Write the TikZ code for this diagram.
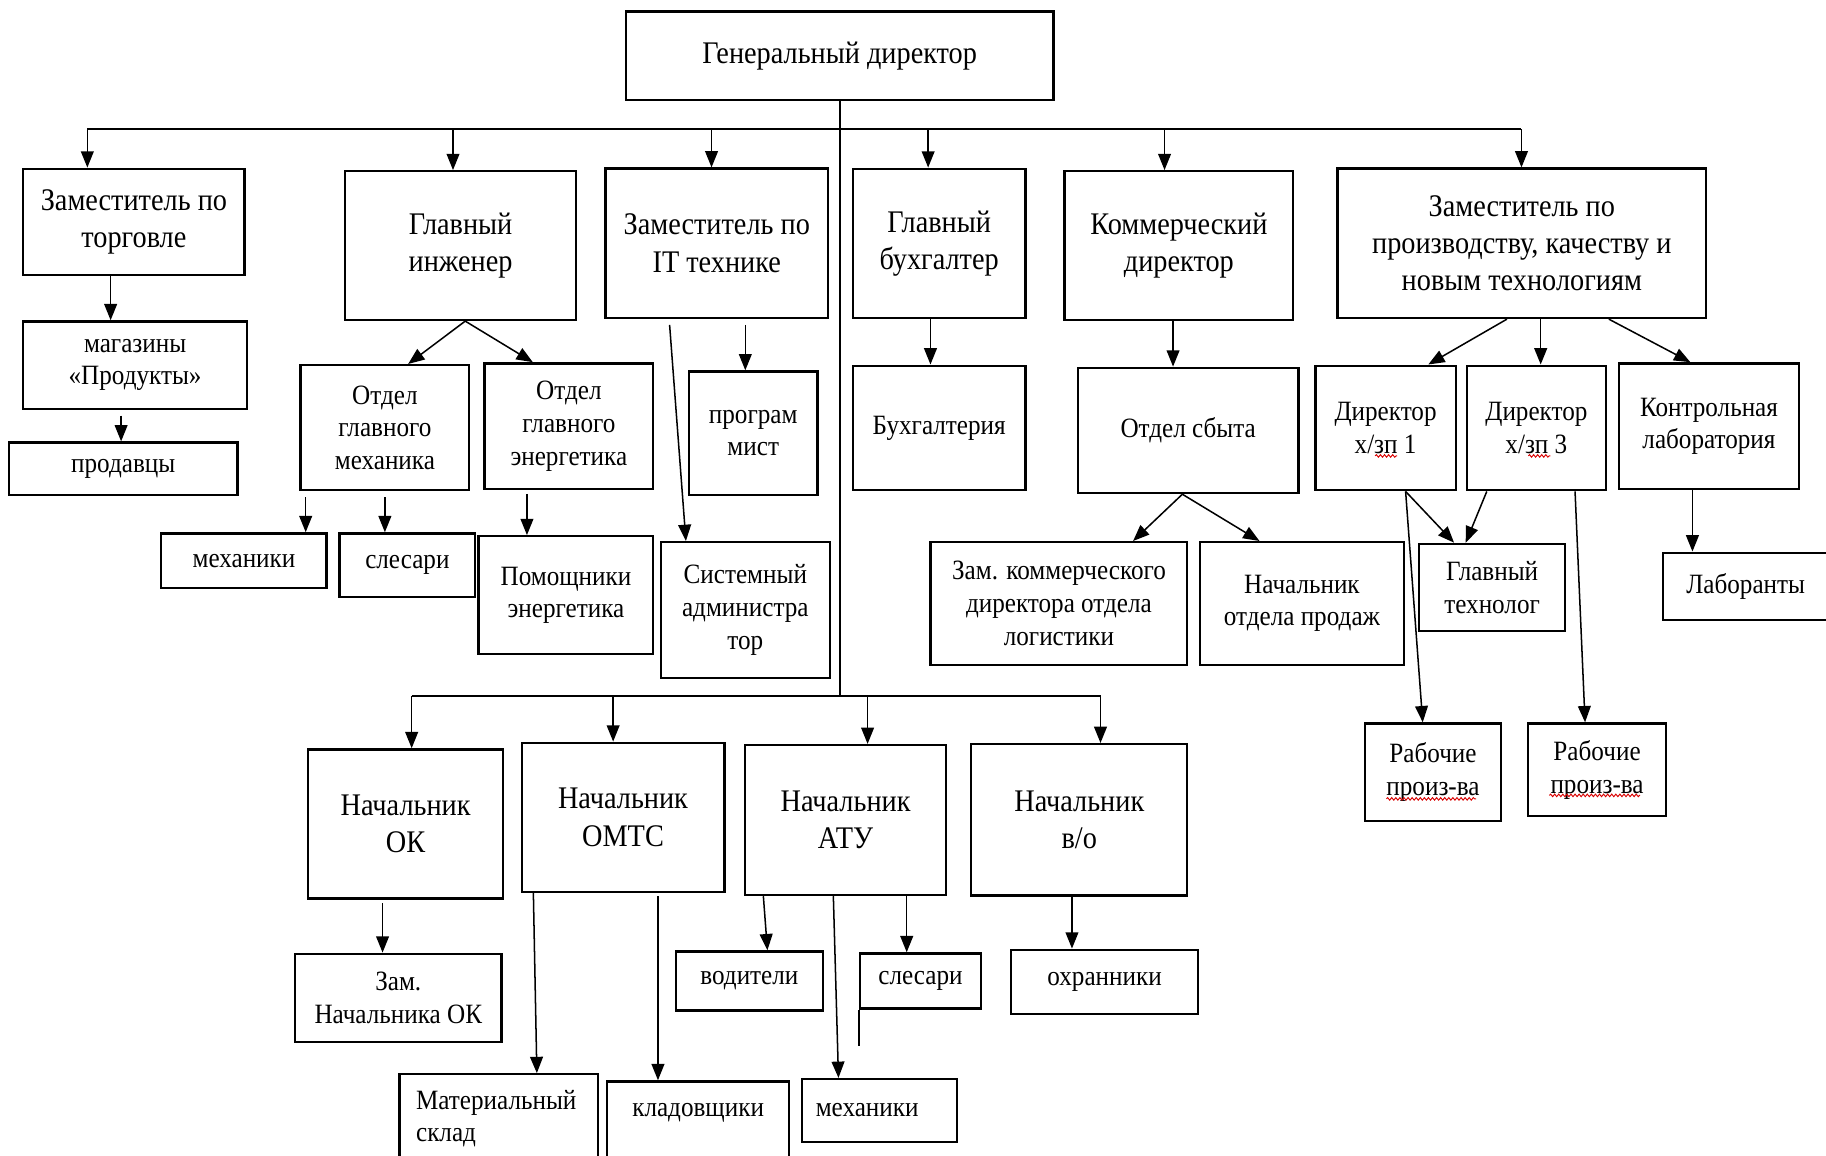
\documentclass[tikz,border=0pt]{standalone}
\usepackage{fontspec}
\setmainfont{Liberation Serif}[FakeStretch=0.9]
\usepackage{tikz}
\usetikzlibrary{arrows.meta}
\usetikzlibrary{decorations.pathmorphing}
\tikzset{
bigbox/.style={rectangle, draw=black!100, fill=none, line width=2pt, inner sep=0pt, align=center, font=\fontsize{27}{32}\selectfont},
midbox/.style={rectangle, draw=black!100, fill=none, line width=2pt, inner sep=0pt, align=center, font=\fontsize{24}{28}\selectfont},
orgarrow/.style={draw=black!100, line width=1.3pt, -{Triangle[length=14pt,width=11pt]}},
busline/.style={draw=black!100, line width=1.8pt},
boxline/.style={draw=black!100, line width=2pt},
spellmark/.style={draw=red!85!black, line width=0.8pt, decorate, decoration={snake, amplitude=1.1pt, segment length=3.5pt}},
}

\begin{document}
\begin{tikzpicture}[x=1pt,y=-1pt]
\useasboundingbox (0,0) rectangle (1568,992);
\clip (0,0) rectangle (1568,992);
\node[bigbox, minimum width=367pt, minimum height=76pt] at (721,48) (gen) {Генеральный директор};
%top row
\node[bigbox, minimum width=190pt, minimum height=91pt] at (115,190.4) (torg) {Заместитель по\\торговле};
\node[bigbox, minimum width=198pt, minimum height=127.7pt] at (395.5,210.9) (glavinzh) {Главный\\инженер};
\node[bigbox, minimum width=191pt, minimum height=128.3pt] at (615.5,208.9) (itzam) {Заместитель по\\IT технике};
\node[bigbox, minimum width=148pt, minimum height=128pt] at (806.5,208.9) (buh) {Главный\\бухгалтер};
\node[bigbox, minimum width=196.5pt, minimum height=127.7pt] at (1012.3,210.9) (kom) {Коммерческий\\директор};
\node[bigbox, minimum width=316.5pt, minimum height=128.3pt] at (1306.8,208.9) (proizv) {Заместитель по\\производству, качеству и\\новым технологиям};
\node[midbox, minimum width=192pt, minimum height=75pt] at (116,313.5) (magaz) {магазины\\«Продукты»};
\node[midbox, minimum width=196.5pt, minimum height=45pt] at (105.8,402.5) (prod) {продавцы};
\node[midbox, minimum width=145pt, minimum height=107.5pt] at (330.5,367.3) (otdmeh) {Отдел\\главного\\механика};
\node[midbox, minimum width=145pt, minimum height=108pt] at (488.5,366) (otdenerg) {Отдел\\главного\\энергетика};
\node[midbox, minimum width=110.5pt, minimum height=106pt] at (646.8,372) (program) {програм\\мист};
\node[midbox, minimum width=148pt, minimum height=107pt] at (806.5,367.5) (buhg) {Бухгалтерия};
\node[midbox, minimum width=189.5pt, minimum height=107.6pt] at (1020.3,369.6) (otdsbyt) {Отдел сбыта};
\node[midbox, minimum width=120.5pt, minimum height=107pt] at (1189.8,367.5) (dir1) {Директор\\х/зп 1};
\node[midbox, minimum width=119.5pt, minimum height=107pt] at (1319.3,367.5) (dir3) {Директор\\х/зп 3};
\node[midbox, minimum width=155pt, minimum height=108pt] at (1467.5,366) (kontlab) {Контрольная\\лаборатория};
\node[midbox, minimum width=142pt, minimum height=47pt] at (209.5,481.5) (mehan) {механики};
\node[midbox, minimum width=116.5pt, minimum height=54.5pt] at (349.8,485.3) (slesar) {слесари};
\node[midbox, minimum width=150pt, minimum height=101.2pt] at (486,511.1) (pomen) {Помощники\\энергетика};
\node[midbox, minimum width=145pt, minimum height=116.5pt] at (640,523.8) (sysadm) {Системный\\администра\\тор};
\node[midbox, minimum width=220.5pt, minimum height=105.3pt] at (909.3,518.2) (zamkom) {Зам. коммерческого\\директора отдела\\логистики};
\node[midbox, minimum width=175pt, minimum height=105.3pt] at (1118,518.2) (nachprod) {Начальник\\отдела продаж};
\node[midbox, minimum width=125.4pt, minimum height=74.6pt] at (1281.3,504.3) (gltech) {Главный\\технолог};
\node[midbox, minimum width=142pt, minimum height=57.8pt] at (1499,503.5) (labor) {Лаборанты};
\node[midbox, minimum width=116.5pt, minimum height=83.5pt] at (1230.5,663) (rab1) {Рабочие\\произ-ва};
\node[midbox, minimum width=118.7pt, minimum height=79.5pt] at (1371.4,661) (rab3) {Рабочие\\произ-ва};
%lower part
\node[bigbox, minimum width=167.5pt, minimum height=128pt] at (348.3,707.5) (nachok) {Начальник\\ОК};
\node[bigbox, minimum width=174pt, minimum height=128pt] at (535,701.8) (nachomts) {Начальник\\ОМТС};
\node[bigbox, minimum width=172.6pt, minimum height=128.8pt] at (726.1,704.2) (nachatu) {Начальник\\АТУ};
\node[bigbox, minimum width=185.5pt, minimum height=130pt] at (926.8,704) (nachvo) {Начальник\\в/о};
\node[midbox, minimum width=177pt, minimum height=76pt] at (342,857) (zamok) {Зам.\\Начальника ОК};
\node[midbox, minimum width=170.5pt, minimum height=76pt, text width=142pt, align=left] at (428.3,960.5) (matsklad) {Материальный\\склад};
\node[midbox, minimum width=156pt, minimum height=90pt, text depth=41pt] at (599.5,973.6) (kladov) {кладовщики};
\node[midbox, minimum width=126pt, minimum height=50.8pt] at (643.5,842.4) (voditeli) {водители};
\node[midbox, minimum width=104pt, minimum height=47.2pt] at (790.5,842.3) (slesarb) {слесари};
\node[midbox, minimum width=133pt, minimum height=53.8pt, text width=109pt, align=left] at (755,953.5) (mehanb) {механики};
\node[midbox, minimum width=161pt, minimum height=55.3pt] at (948.5,843.2) (ohran) {охранники};

\coordinate (tp1) at (75,111);
\coordinate (tp2) at (389,111);
\coordinate (tp3) at (611,111);
\coordinate (tp4) at (797,111);
\coordinate (tp5) at (1000,111);
\coordinate (tp6) at (1306.5,111);
\coordinate (tq1) at (353.5,598);
\coordinate (tq2) at (526.5,598);
\coordinate (tq3) at (745,598);
\coordinate (tq4) at (945,598);
\draw[busline] (gen.south) to (gen.south |- tq1);
\draw[busline] (tp1) to (tp6);
\draw[busline] (tq1) to (tq4);
\draw[orgarrow] (tp1) to (tp1 |- torg.north);
\draw[orgarrow] (tp2) to (tp2 |- glavinzh.north);
\draw[orgarrow] (tp3) to (tp3 |- itzam.north);
\draw[orgarrow] (tp4) to (tp4 |- buh.north);
\draw[orgarrow] (tp5) to (tp5 |- kom.north);
\draw[orgarrow] (tp6) to (tp6 |- proizv.north);
\draw[orgarrow] (tq1) to (tq1 |- nachok.north);
\draw[orgarrow] (tq2) to (tq2 |- nachomts.north);
\draw[orgarrow] (tq3) to (tq3 |- nachatu.north);
\draw[orgarrow] (tq4) to (tq4 |- nachvo.north);

\draw[orgarrow] ([xshift=-20pt]torg.south) to ([xshift=-20pt]torg.south |- magaz.north);
\draw[orgarrow] ([xshift=-12pt,yshift=-5pt]magaz.south) to ([xshift=-12pt]magaz.south |- prod.north);
\draw[orgarrow] ([xshift=4pt]glavinzh.south) to ([xshift=20pt]otdmeh.north);
\draw[orgarrow] ([xshift=4pt]glavinzh.south) to ([xshift=-31pt]otdenerg.north);
\draw[orgarrow] ([xshift=-68pt,yshift=-5pt]otdmeh.south) to ([xshift=-68pt]otdmeh.south |- mehan.north);
\draw[orgarrow] ([yshift=-5pt]otdmeh.south) to (otdmeh.south |- slesar.north);
\draw[orgarrow] ([xshift=-36pt,yshift=-3pt]otdenerg.south) to ([xshift=-36pt]otdenerg.south |- pomen.north);
\draw[orgarrow] ([xshift=24.5pt,yshift=-5pt]itzam.south) to ([xshift=24.5pt]itzam.south |- program.north);
\draw[orgarrow] ([xshift=-40.5pt,yshift=-5pt]itzam.south) to ([xshift=-51pt]sysadm.north);
\draw[orgarrow] ([xshift=-7.5pt]buh.south) to ([xshift=-7.5pt]buh.south |- buhg.north);
\draw[orgarrow] ([xshift=-5pt]kom.south) to ([xshift=-5pt]kom.south |- otdsbyt.north);
\draw[orgarrow] ([xshift=-5pt]otdsbyt.south) to ([xshift=63.7pt]zamkom.north);
\draw[orgarrow] ([xshift=-5pt]otdsbyt.south) to ([xshift=-36.5pt]nachprod.north);
\draw[orgarrow] ([xshift=-12.8pt]proizv.south) to ([xshift=36.7pt]dir1.north);
\draw[orgarrow] ([xshift=16.2pt]proizv.south) to ([xshift=16.2pt]proizv.south |- dir3.north);
\draw[orgarrow] ([xshift=74.7pt]proizv.south) to ([xshift=-16pt]kontlab.north);
\draw[orgarrow] ([xshift=17.2pt]dir1.south) to ([xshift=-32.7pt]gltech.north);
\draw[orgarrow] ([xshift=17.2pt]dir1.south) to ([xshift=-8.8pt]rab1.north);
\draw[orgarrow] ([xshift=-42.6pt]dir3.south) to ([xshift=-22.7pt]gltech.north);
\draw[orgarrow] ([xshift=33.2pt]dir3.south) to ([xshift=-10.3pt]rab3.north);
\draw[orgarrow] ([xshift=-14.2pt]kontlab.south) to ([xshift=-14.2pt]kontlab.south |- labor.north);
\draw[orgarrow] ([xshift=-19.8pt,yshift=-3pt]nachok.south) to ([xshift=-19.8pt]nachok.south |- zamok.north);
\draw[orgarrow] ([xshift=-77pt]nachomts.south) to ([xshift=32.7pt]matsklad.north);
\draw[orgarrow] ([xshift=30pt,yshift=-3pt]nachomts.south) to ([xshift=30pt]nachomts.south |- kladov.north);
\draw[orgarrow] ([xshift=-70.6pt]nachatu.south) to ([xshift=15.5pt]voditeli.north);
\draw[orgarrow] ([xshift=-10.5pt]nachatu.south) to ([xshift=-35pt]mehanb.north);
\draw[orgarrow] ([xshift=52.5pt]nachatu.south) to ([xshift=52.5pt]nachatu.south |- slesarb.north);
\draw[orgarrow] ([xshift=-6.3pt]nachvo.south) to ([xshift=-6.3pt]nachvo.south |- ohran.north);
\draw[boxline] (slesarb.south west) to ++(0,31);
%spelling marks
\draw[spellmark] ([xshift=-9pt,yshift=-24pt]dir1.center) to ([xshift=10pt,yshift=-24pt]dir1.center);
\draw[spellmark] ([xshift=-7pt,yshift=-24pt]dir3.center) to ([xshift=12pt,yshift=-24pt]dir3.center);
\draw[spellmark] ([xshift=-40pt,yshift=-23pt]rab1.center) to ([xshift=37pt,yshift=-23pt]rab1.center);
\draw[spellmark] ([xshift=-41pt,yshift=-22pt]rab3.center) to ([xshift=37pt,yshift=-22pt]rab3.center);
\end{tikzpicture}
\end{document}
